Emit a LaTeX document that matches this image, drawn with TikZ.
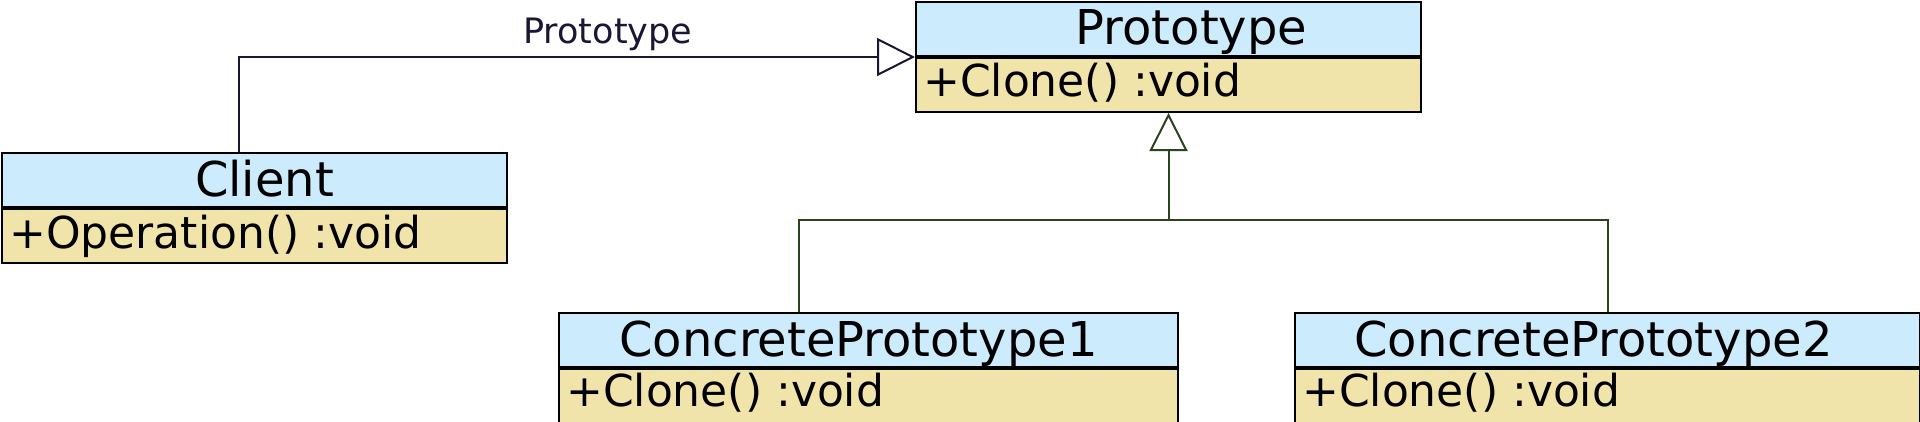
\documentclass[tikz,border=0pt]{standalone}
\usepackage{fontspec}
\setmainfont{DejaVu Sans}
\usetikzlibrary{arrows.meta, positioning}
\usepackage{xcolor}
\definecolor{headblue}{RGB}{204,235,252}
\definecolor{opsyellow}{RGB}{240,228,170}
\definecolor{assocnavy}{RGB}{28,22,52}
\definecolor{gengreen}{RGB}{42,68,30}

\begin{document}
\begin{tikzpicture}[x=1pt, y=-1pt,
    classhead/.style={draw=black, fill=headblue, line width=2pt, minimum height=54pt, inner sep=0pt},
    classops/.style={draw=black, fill=opsyellow, line width=2pt, minimum height=54pt, inner sep=0pt},
    classname/.style={inner sep=0pt, anchor=base, font=\fontsize{48}{50}\selectfont},
    member/.style={inner sep=0pt, anchor=base west, font=\fontsize{44}{46}\selectfont},
    assoc/.style={draw=assocnavy, line width=2pt, -{Triangle[open, length=38pt, width=38pt, fill=white]}},
    gen/.style={draw=gengreen, line width=2pt},
    rolelabel/.style={text=assocnavy, font=\fontsize{35}{37}\selectfont}]
      \useasboundingbox (0,0) rectangle (1920,421);
      % client
      \node[classhead, minimum width=505pt, anchor=north west] (client) at (1,152) {};
      \node[classops, minimum width=505pt, anchor=north] (clientops) at (client.south) {};
      \node[classname] (clientname) at ([xshift=10pt, yshift=-44pt]client.north) {Client};
      \node[member] (clientop) at ([xshift=8pt, yshift=-40pt]client.south west) {+Operation() :void};
      % prototype
      \node[classhead, minimum width=505pt, anchor=north west] (proto) at (915,1) {};
      \node[classops, minimum width=505pt, anchor=north] (protoops) at (proto.south) {};
      \node[classname] (protoname) at ([xshift=23pt, yshift=-43pt]proto.north) {Prototype};
      \node[member] (protoop) at ([xshift=8pt, yshift=-39pt]proto.south west) {+Clone() :void};
      % concrete prototypes
      \node[classhead, minimum width=619pt, anchor=north west] (cp1) at (558,312) {};
      \node[classops, minimum width=619pt, anchor=north] (cp1ops) at (cp1.south) {};
      \node[classname] (cp1name) at ([xshift=-10pt, yshift=-44pt]cp1.north) {ConcretePrototype1};
      \node[member] (cp1op) at ([xshift=8pt, yshift=-38pt]cp1.south west) {+Clone() :void};
      \node[classhead, minimum width=625pt, anchor=north west] (cp2) at (1294,312) {};
      \node[classops, minimum width=625pt, anchor=north] (cp2ops) at (cp2.south) {};
      \node[classname] (cp2name) at ([xshift=-14pt, yshift=-44pt]cp2.north) {ConcretePrototype2};
      \node[member] (cp2op) at ([xshift=8pt, yshift=-38pt]cp2.south west) {+Clone() :void};
      % connectors
      \draw[assoc] ([xshift=-16pt]client.north) |- (proto.south west)
        node[rolelabel, pos=0.773, above, inner sep=5pt] (rolename) {Prototype};
      \coordinate (junction) at (protoops.south |- 0,220);
      \draw[gen, -{Triangle[open, length=38pt, width=38pt, fill=white]}] (junction) -- (protoops.south);
      \draw[gen] ([xshift=-70pt]cp1.north) |- (junction) -| (cp2.north);
    \end{tikzpicture}
\end{document}
